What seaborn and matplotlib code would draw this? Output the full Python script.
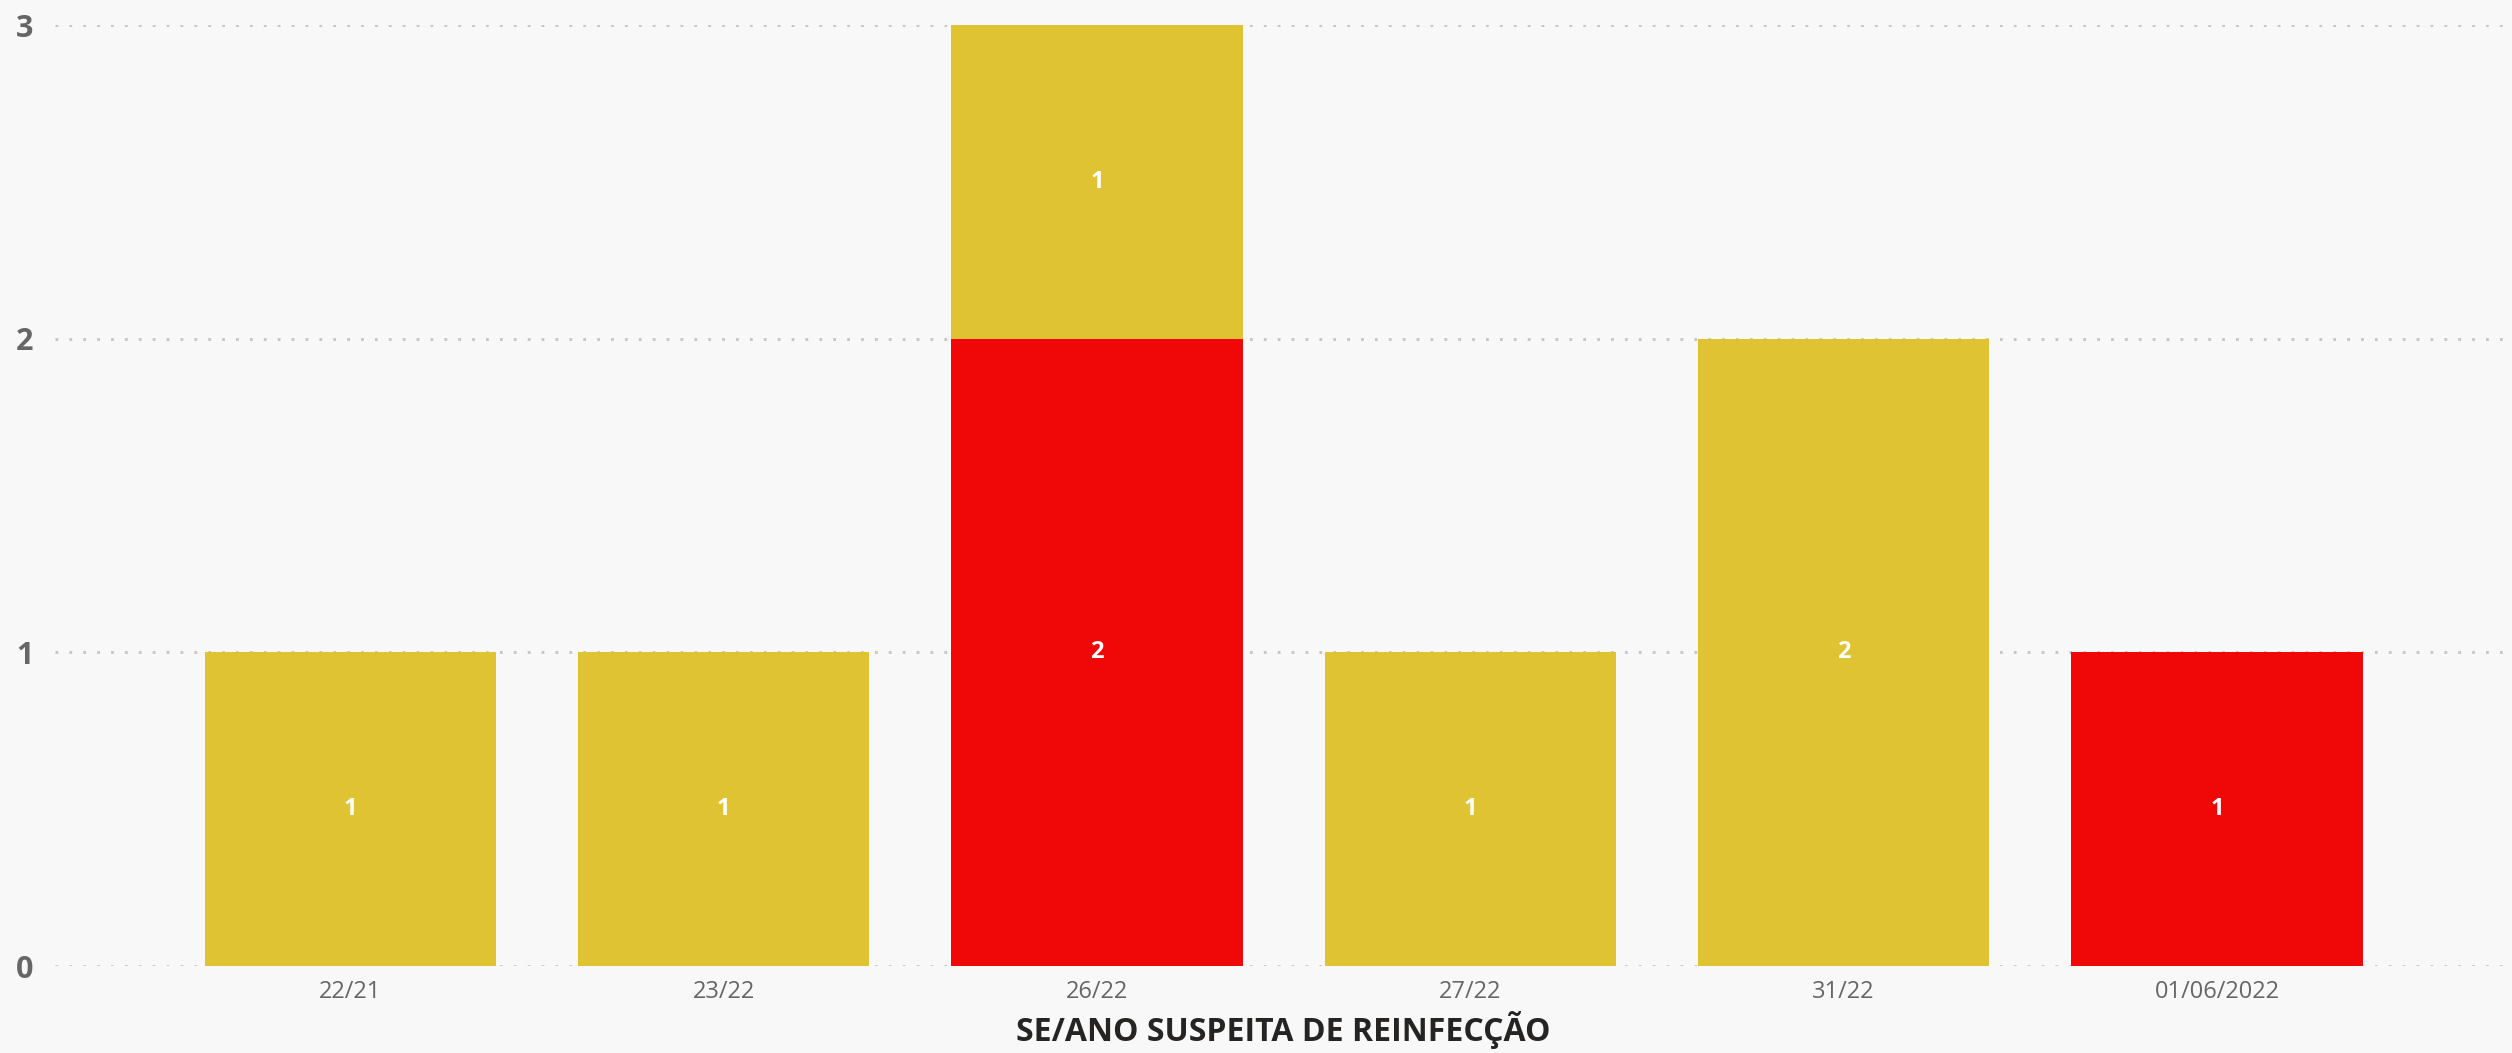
import pandas as pd
import matplotlib.pyplot as plt
import seaborn as sns

# Data
categories = ['22/21', '23/22', '26/22', '27/22', '31/22', '01/06/2022']
yellow_counts = [1, 1, 1, 1, 2, 0]
red_counts = [0, 0, 2, 0, 0, 1]

YELLOW = '#E0C333'
RED = '#F00707'
BG = '#F8F8F8'

sns.set_theme(style="white")
plt.rcParams['font.family'] = ['Open Sans', 'DejaVu Sans']

df = pd.DataFrame({'SE': categories, 'amarelo': yellow_counts, 'vermelho': red_counts})
df['total'] = df['amarelo'] + df['vermelho']

fig = plt.figure(figsize=(25.12, 10.53), dpi=100, facecolor=BG)
ax = fig.add_axes([0.022, 0.0826, 0.978, 0.8936])
ax.set_facecolor(BG)

# stacked bars: draw total in yellow, then red on top of it from zero
sns.barplot(data=df, x='SE', y='total', color=YELLOW, saturation=1, width=0.78,
            linewidth=0, ax=ax)
sns.barplot(data=df, x='SE', y='vermelho', color=RED, saturation=1, width=0.78,
            linewidth=0, ax=ax)

# segment labels
for i, row in df.iterrows():
    if row['vermelho'] > 0:
        ax.text(i, row['vermelho'] / 2, str(row['vermelho']), ha='center', va='center',
                color='white', fontsize=17, fontweight='bold')
    if row['amarelo'] > 0:
        ax.text(i, row['vermelho'] + row['amarelo'] / 2, str(row['amarelo']), ha='center', va='center',
                color='white', fontsize=17, fontweight='bold')

ax.set_ylim(0, 3)
ax.set_xlim(-0.79, 5.79)
ax.set_yticks([0, 1, 2, 3])
ax.yaxis.grid(True, color='#C4C4C4', linestyle=(0, (1, 4)), linewidth=2)
ax.set_axisbelow(True)
sns.despine(ax=ax, left=True, bottom=True)

ax.tick_params(axis='y', length=0, pad=16, labelsize=22, labelcolor='#666666')
for lbl in ax.get_yticklabels():
    lbl.set_fontweight('bold')
ax.tick_params(axis='x', length=0, pad=10, labelsize=17, labelcolor='#666666')

ax.set_ylabel('')
ax.set_xlabel('SE/ANO SUSPEITA DE REINFECÇÃO', fontsize=23, fontweight='bold',
              color='#252423', labelpad=5)

fig.savefig('out.png', dpi=100, facecolor=BG)
